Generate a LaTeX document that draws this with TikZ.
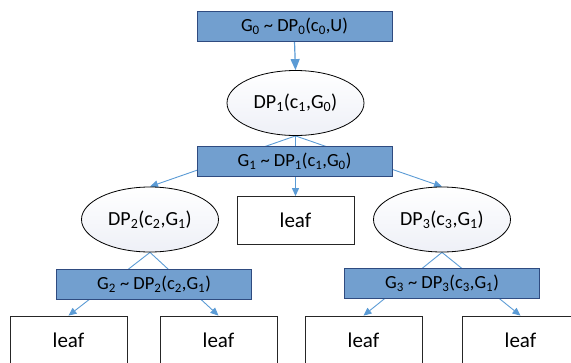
\documentclass[tikz,border=0pt]{standalone}
\usepackage{fontspec}
\setmainfont{Carlito}
\usetikzlibrary{shapes.geometric,arrows.meta,backgrounds}
\definecolor{boxfill}{HTML}{729FCF}
\definecolor{boxline}{HTML}{2F4B80}
\definecolor{linkc}{HTML}{5B9BD5}
\definecolor{ellshade}{HTML}{EEF0F7}
\newcommand{\lsub}[1]{\textsubscript{#1}}
\begin{document}
\begin{tikzpicture}[x=1pt,y=-1pt,
  dist/.style={draw=boxline, fill=boxfill, line width=0.8pt,
    minimum width=195pt, minimum height=30pt, inner sep=0pt,
    font=\fontsize{18.5}{20}\selectfont},
  proc/.style={ellipse, draw=black, line width=0.8pt,
    top color=white, bottom color=ellshade,
    minimum width=137pt, minimum height=65pt, inner sep=0pt,
    font=\fontsize{20}{22}\selectfont},
  leafbox/.style={draw=black!85, line width=0.8pt, fill=white,
    minimum width=117pt, minimum height=48pt, inner sep=0pt,
    font=\fontsize{21}{23}\selectfont},
  link/.style={draw=linkc, line width=0.9pt,
    -{Triangle[width=7pt,length=8pt]}},
  toplink/.style={link, line width=1.2pt,
    -{Triangle[width=9pt,length=11pt]}},
]
\useasboundingbox (0,0) rectangle (571,362);

% root distribution and first process
\node[dist] (g0) at (294.5,26) {G\lsub{0} \textasciitilde{} DP\lsub{0}(c\lsub{0},U)};
\node[proc] (dp1) at (295.5,103) {DP\lsub{1}(c\lsub{1},G\lsub{0})};
\node[dist] (g1) at (294.5,161.5) {G\lsub{1} \textasciitilde{} DP\lsub{1}(c\lsub{1},G\lsub{0})};

% second level
\node[proc] (dp2) at (150,219.5) {DP\lsub{2}(c\lsub{2},G\lsub{1})};
\node[leafbox] (leafm) at (295.5,220.5) {leaf};
\node[proc] (dp3) at (442,219.5) {DP\lsub{3}(c\lsub{3},G\lsub{1})};

\node[dist] (g2) at (154,284) {G\lsub{2} \textasciitilde{} DP\lsub{2}(c\lsub{2},G\lsub{1})};
\node[dist] (g3) at (442,283.5) {G\lsub{3} \textasciitilde{} DP\lsub{3}(c\lsub{3},G\lsub{1})};

% bottom leaves
\node[leafbox] (l1) at (68.5,340) {leaf};
\node[leafbox] (l2) at (218.5,340) {leaf};
\node[leafbox] (l3) at (363.5,340) {leaf};
\node[leafbox] (l4) at (520.5,340) {leaf};

% connectors pass behind the distribution boxes
\begin{scope}[on background layer]
  \draw[toplink] (g0.south) -- (dp1.north);
  \draw[link] (dp1.south) -- (dp2.north);
  \draw[link, line width=1.1pt] (dp1.south) -- (leafm.north);
  \draw[link] (dp1.south) -- (dp3.north);
  \draw[link] (dp2.south) -- (l1.north);
  \draw[link] (dp2.south) -- (l2.north);
  \draw[link] (dp3.south) -- (l3.north);
  \draw[link] (dp3.south) -- (l4.north);
\end{scope}
\end{tikzpicture}
\end{document}
